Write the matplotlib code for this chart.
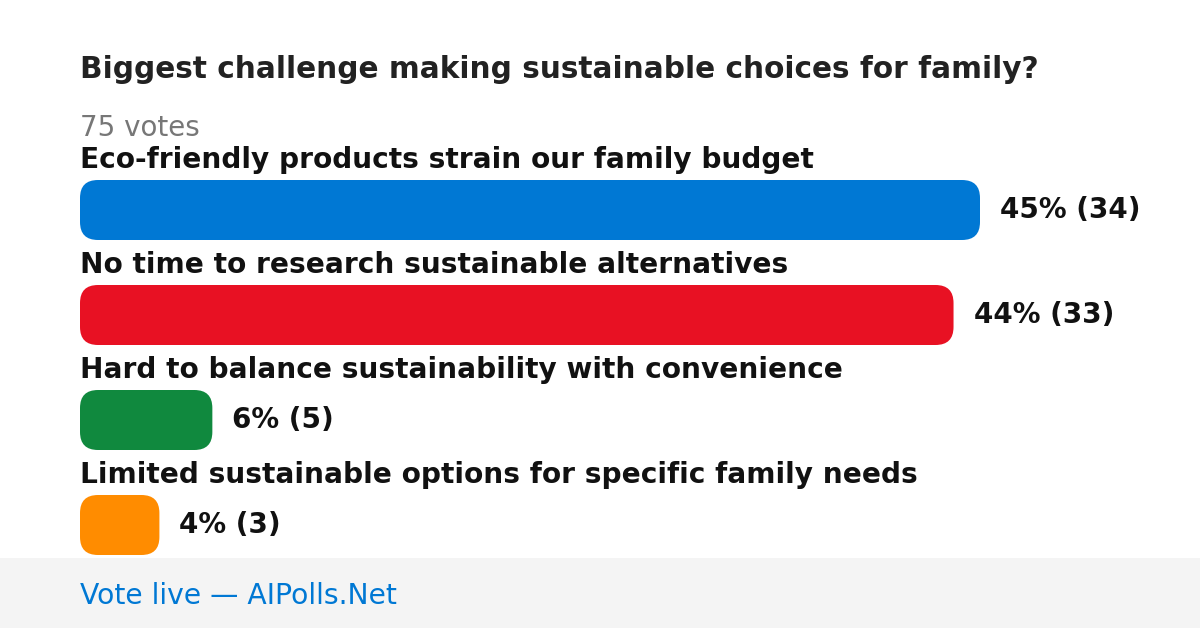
import matplotlib
matplotlib.use("Agg")
import matplotlib.pyplot as plt
from matplotlib.patches import FancyBboxPatch, Rectangle

title = "Biggest challenge making sustainable choices for family?"
total_label = "75 votes"
options = [
    "Eco-friendly products strain our family budget",
    "No time to research sustainable alternatives",
    "Hard to balance sustainability with convenience",
    "Limited sustainable options for specific family needs",
]
votes = [34, 33, 5, 3]
percents = [45, 44, 6, 4]
colors = ["#0078d4", "#e81123", "#10893e", "#ff8c00"]
footer = "Vote live \u2014 AIPolls.Net"

W, H = 1200, 628
fig = plt.figure(figsize=(W / 100, H / 100), dpi=100)
ax = fig.add_axes([0, 0, 1, 1])
ax.set_xlim(0, W)
ax.set_ylim(H, 0)
ax.axis("off")

plt.rcParams["font.family"] = "DejaVu Sans"

ax.text(80, 69, title, fontsize=21.3, fontweight="bold", color="#222222", va="center")
ax.text(80, 128, total_label, fontsize=20, color="#777777", va="center")

left = 80
bar_max = 900
bar_h = 60
top0 = 180
step = 105
mx = max(votes)
for i, (opt, v, p, c) in enumerate(zip(options, votes, percents, colors)):
    top = top0 + i * step
    w = bar_max * v / mx
    ax.text(left, top - 20, opt, fontsize=20.2, fontweight="bold", color="#111111", va="center")
    ax.add_patch(FancyBboxPatch((left, top), w, bar_h,
                                boxstyle="round,pad=0,rounding_size=18",
                                facecolor=c, edgecolor="none"))
    ax.text(left + w + 20, top + bar_h / 2, f"{p}% ({v})", fontsize=20,
            fontweight="bold", color="#111111", va="center")

ax.add_patch(Rectangle((0, 558), W, H - 558, facecolor="#f4f4f4", edgecolor="none"))
ax.text(80, 596, footer, fontsize=20.3, color="#0078d4", va="center")

fig.savefig("out.png", dpi=100, facecolor="white")
